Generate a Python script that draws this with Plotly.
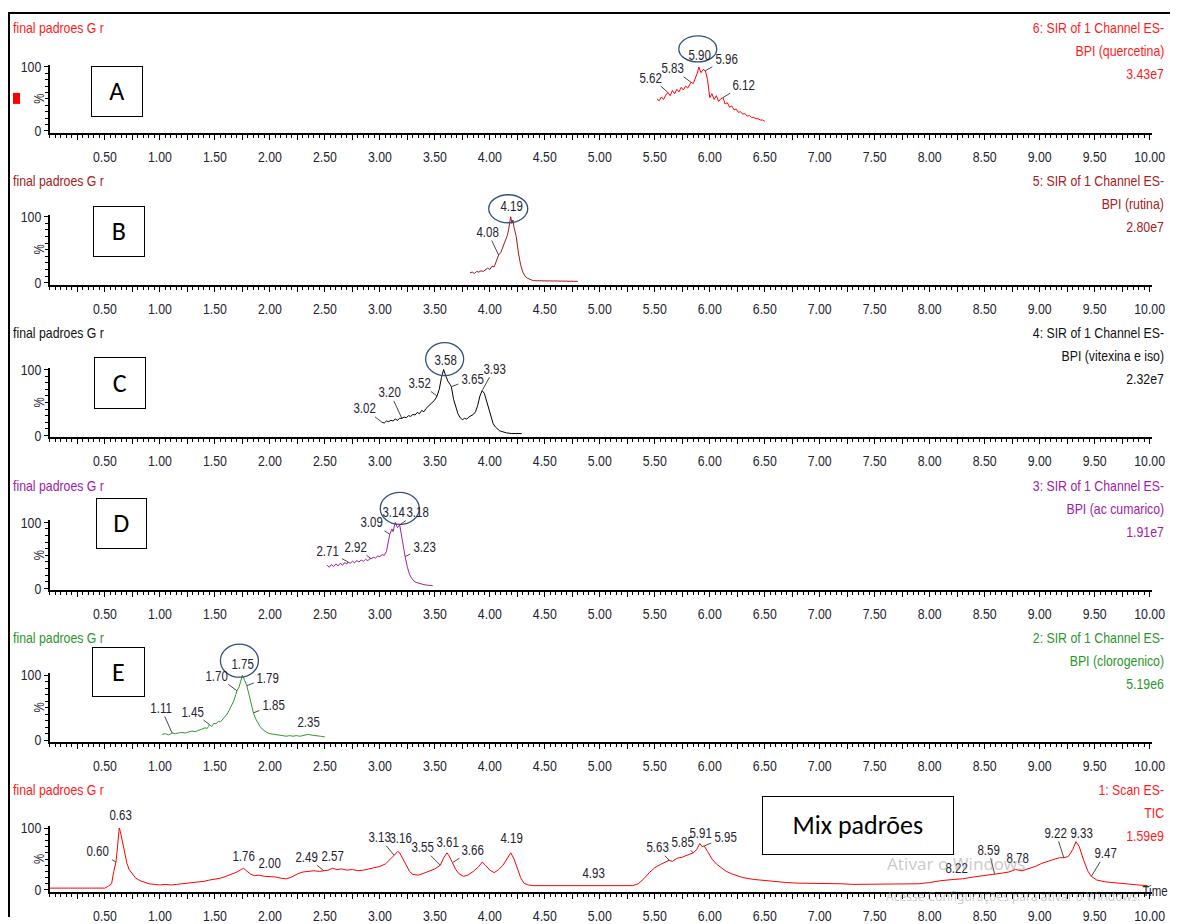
import numpy as np
import plotly.graph_objects as go

W, H = 1187, 924

# ---------------- chromatogram data: retention time (min) / relative intensity (%) ----------------
quercetina_t = [5.52, 5.54, 5.56, 5.58, 5.60, 5.62, 5.64, 5.66, 5.68, 5.70, 5.72, 5.74, 5.76, 5.78, 5.80, 5.82,
                5.83, 5.85, 5.87, 5.89, 5.90, 5.92, 5.94, 5.96, 5.98, 6.00,
                6.02, 6.04, 6.06, 6.08, 6.10, 6.12, 6.14, 6.16, 6.18, 6.20, 6.22, 6.24, 6.26, 6.28, 6.30, 6.32,
                6.34, 6.36, 6.38, 6.40, 6.42, 6.44, 6.46, 6.48, 6.50]
quercetina_i = [50, 47, 53, 49, 56, 60, 55, 63, 58, 65, 61, 68, 64, 70, 67, 73,
                76, 74, 82, 92, 100, 91, 96, 94, 80, 52,
                58, 49, 55, 46, 50, 52, 42, 44, 37, 39, 33, 34, 29, 30, 26, 27,
                23, 24, 21, 21, 19, 19, 17, 17, 15]

rutina_t = [3.82, 3.84, 3.86, 3.88, 3.90, 3.92, 3.94, 3.96, 3.98, 4.00, 4.02, 4.04, 4.06, 4.08, 4.10,
            4.12, 4.14, 4.16, 4.17, 4.18, 4.19, 4.20, 4.21, 4.22, 4.24, 4.26, 4.28, 4.30, 4.32, 4.34,
            4.36, 4.38, 4.40, 4.45, 4.50, 4.55, 4.60, 4.65, 4.70, 4.75, 4.80]
rutina_i = [15, 16, 14, 17, 16, 18, 17, 20, 22, 20, 25, 24, 33, 42, 46,
            55, 63, 72, 80, 88, 100, 90, 95, 84, 70, 45, 27, 16, 10, 7,
            5, 4, 3, 3, 2, 2, 2, 2, 2, 2, 2]

vitexina_t = [3.02, 3.04, 3.06, 3.08, 3.10, 3.12, 3.14, 3.16, 3.18, 3.20, 3.22, 3.24, 3.26, 3.28, 3.30, 3.32,
              3.34, 3.36, 3.38, 3.40, 3.42, 3.44, 3.46, 3.48, 3.50, 3.52, 3.54, 3.56, 3.58, 3.60, 3.62, 3.64,
              3.65, 3.67, 3.69, 3.71, 3.73, 3.75, 3.77, 3.79, 3.81, 3.83, 3.85, 3.87, 3.89, 3.91, 3.93,
              3.95, 3.97, 3.99, 4.01, 4.03, 4.05, 4.07, 4.09, 4.11, 4.13, 4.15, 4.20, 4.25, 4.29]
vitexina_i = [20, 19, 22, 21, 23, 22, 25, 23, 26, 26, 28, 27, 30, 29, 32, 31,
              35, 33, 38, 36, 41, 44, 47, 50, 54, 60, 70, 88, 100, 90, 82, 77,
              74, 55, 42, 33, 27, 24, 26, 25, 28, 30, 32, 36, 46, 60, 68,
              64, 52, 38, 26, 18, 13, 10, 7, 6, 5, 4, 3, 3, 3]

cumarico_t = [2.52, 2.54, 2.56, 2.58, 2.60, 2.62, 2.64, 2.66, 2.68, 2.70, 2.71, 2.73, 2.75, 2.77, 2.79,
              2.81, 2.83, 2.85, 2.87, 2.89, 2.91, 2.92, 2.94, 2.96, 2.98, 3.00, 3.02, 3.04, 3.06, 3.08,
              3.09, 3.11, 3.12, 3.14, 3.16, 3.18, 3.20, 3.22, 3.23, 3.25, 3.27, 3.29, 3.31, 3.33, 3.36,
              3.39, 3.42, 3.45, 3.48]
cumarico_i = [35, 32, 36, 33, 37, 34, 38, 35, 39, 37, 40, 38, 41, 39, 42,
              40, 43, 41, 44, 42, 45, 45, 47, 46, 49, 48, 51, 50, 56, 72,
              82, 90, 86, 100, 92, 96, 75, 55, 48, 32, 21, 15, 11, 9, 7,
              6, 5, 4, 4]

clorogenico_t = [1.02, 1.05, 1.08, 1.11, 1.14, 1.17, 1.20, 1.23, 1.26, 1.29, 1.32, 1.35, 1.38, 1.41, 1.43,
                 1.45, 1.47, 1.49, 1.51, 1.53, 1.55, 1.57, 1.59, 1.61, 1.63, 1.65, 1.67, 1.69, 1.70, 1.72,
                 1.73, 1.75, 1.77, 1.79, 1.81, 1.83, 1.85, 1.87, 1.89, 1.91, 1.93, 1.95, 1.97, 2.00, 2.03,
                 2.06, 2.09, 2.12, 2.15, 2.18, 2.21, 2.24, 2.27, 2.30, 2.33, 2.35, 2.37, 2.40, 2.43, 2.46,
                 2.50]
clorogenico_i = [9, 10, 8, 11, 10, 11, 12, 11, 13, 14, 13, 15, 17, 19, 18,
                 24, 21, 26, 25, 29, 28, 32, 36, 40, 46, 53, 60, 70, 76, 82,
                 88, 100, 92, 84, 70, 55, 42, 33, 26, 21, 17, 14, 12, 10, 9,
                 8, 7, 7, 6, 7, 6, 7, 6, 7, 8, 9, 8, 7, 6, 6,
                 5]

tic_t = [0.00, 0.10, 0.20, 0.30, 0.40, 0.50, 0.53, 0.56, 0.58, 0.60, 0.61, 0.62, 0.63, 0.64, 0.66,
         0.68, 0.70, 0.72, 0.75, 0.78, 0.82, 0.86, 0.90, 0.95, 1.00, 1.05, 1.10, 1.15, 1.20, 1.25,
         1.30, 1.35, 1.40, 1.45, 1.50, 1.55, 1.60, 1.65, 1.70, 1.74, 1.76, 1.78, 1.82, 1.86, 1.90,
         1.95, 2.00, 2.05, 2.10, 2.15, 2.20, 2.25, 2.30, 2.35, 2.40, 2.45, 2.49, 2.53, 2.57, 2.61,
         2.65, 2.70, 2.75, 2.80, 2.85, 2.90, 2.95, 3.00, 3.05, 3.10, 3.13, 3.16, 3.18, 3.21, 3.24,
         3.27, 3.30, 3.35, 3.40, 3.45, 3.50, 3.55, 3.58, 3.61, 3.63, 3.66, 3.69, 3.72, 3.76, 3.80,
         3.85, 3.90, 3.93, 3.96, 4.00, 4.04, 4.08, 4.12, 4.16, 4.19, 4.22, 4.25, 4.28, 4.31, 4.35,
         4.40, 4.50, 4.60, 4.70, 4.80, 4.93, 5.00, 5.10, 5.20, 5.30, 5.35, 5.40, 5.45, 5.50, 5.55,
         5.60, 5.63, 5.66, 5.70, 5.75, 5.80, 5.85, 5.88, 5.91, 5.93, 5.95, 5.98, 6.02, 6.06, 6.10,
         6.15, 6.20, 6.30, 6.40, 6.50, 6.60, 6.70, 6.80, 6.90, 7.00, 7.10, 7.20, 7.30, 7.40, 7.50,
         7.60, 7.70, 7.80, 7.90, 8.00, 8.10, 8.22, 8.30, 8.40, 8.50, 8.59, 8.65, 8.72, 8.78, 8.84,
         8.90, 8.96, 9.02, 9.08, 9.14, 9.18, 9.22, 9.26, 9.30, 9.33, 9.36, 9.40, 9.44, 9.47, 9.52,
         9.60, 9.70, 9.80, 9.90, 9.98]
tic_i = [3, 3, 3, 3, 3, 3, 6, 10, 30, 45, 62, 88, 100, 94, 78,
         58, 43, 33, 25, 19, 15, 12, 10, 9, 8, 9, 8, 9, 10, 10,
         11, 13, 14, 16, 17, 19, 22, 25, 29, 33, 35, 32, 26, 23, 24,
         22, 22, 21, 19, 18, 21, 26, 29, 30, 31, 30, 31, 32, 35, 33,
         34, 32, 33, 31, 32, 34, 36, 38, 42, 50, 56, 62, 60, 50, 40,
         30, 25, 24, 27, 30, 34, 40, 52, 60, 55, 44, 33, 26, 22, 24,
         30, 38, 45, 40, 32, 28, 33, 40, 52, 60, 50, 35, 20, 11, 8,
         7, 7, 6, 7, 6, 7, 6, 6, 7, 7, 10, 18, 28, 36, 41,
         45, 48, 46, 51, 53, 56, 60, 65, 75, 70, 71, 62, 50, 42, 36,
         30, 26, 20, 17, 15, 13, 12, 11, 11, 10, 10, 10, 9, 9, 9,
         9, 9, 10, 10, 12, 15, 17, 18, 21, 23, 26, 27, 29, 33, 31,
         34, 38, 43, 47, 50, 52, 52, 54, 65, 78, 70, 48, 30, 22, 16,
         13, 11, 9, 8, 7]

# ---------------- peak apex labels ----------------
quercetina_peaks = [5.62, 5.83, 5.90, 5.96, 6.12]
rutina_peaks = [4.08, 4.19]
vitexina_peaks = [3.02, 3.20, 3.52, 3.58, 3.65, 3.93]
cumarico_peaks = [2.71, 2.92, 3.09, 3.14, 3.18, 3.23]
clorogenico_peaks = [1.11, 1.45, 1.70, 1.75, 1.79, 1.85, 2.35]
tic_peaks = [0.60, 0.63, 1.76, 2.00, 2.49, 2.57, 3.13, 3.16, 3.55, 3.61, 3.66, 4.19, 4.93,
             5.63, 5.85, 5.91, 5.95, 8.22, 8.59, 8.78, 9.22, 9.33, 9.47]
# highlighted (circled) compound peak in each SIR channel
highlighted_peaks = [5.90, 4.19, 3.58, 3.14, 1.75, None]

# ---------------- header texts ----------------
sample_name = "final padroes G r"
channel_titles = ["6: SIR of 1 Channel ES-", "5: SIR of 1 Channel ES-", "4: SIR of 1 Channel ES-",
                  "3: SIR of 1 Channel ES-", "2: SIR of 1 Channel ES-", "1: Scan ES-"]
channel_functions = ["BPI (quercetina)", "BPI (rutina)", "BPI (vitexina e iso)",
                     "BPI (ac cumarico)", "BPI (clorogenico)", "TIC"]
full_scale = ["3.43e7", "2.80e7", "2.32e7", "1.91e7", "5.19e6", "1.59e9"]
panel_tags = ["A", "B", "C", "D", "E", "Mix padrões"]
x_tick_labels = ["0.50", "1.00", "1.50", "2.00", "2.50", "3.00", "3.50", "4.00", "4.50", "5.00",
                 "5.50", "6.00", "6.50", "7.00", "7.50", "8.00", "8.50", "9.00", "9.50", "10.00"]

traces = [(quercetina_t, quercetina_i), (rutina_t, rutina_i), (vitexina_t, vitexina_i),
          (cumarico_t, cumarico_i), (clorogenico_t, clorogenico_i), (tic_t, tic_i)]
peak_sets = [quercetina_peaks, rutina_peaks, vitexina_peaks, cumarico_peaks, clorogenico_peaks, tic_peaks]
for t, v in traces:
    assert len(t) == len(v)

# ---------------- styling ----------------
NARROW = "Liberation Sans, Arial, sans-serif"   # condensed in the page script below
TAGFONT = "Carlito, Lato, Open Sans, sans-serif"
LABEL_COLOR = "#23232f"
trace_colors = ["#ff0000", "#9e1b1b", "#000000", "#a01ea6", "#2f9a2f", "#ff0000"]
head_colors = ["#ff1a1a", "#a52020", "#111111", "#a020a6", "#2a962a", "#ff1a1a"]

# layout grid (px): 0 % line, 100 % line, header text line of each panel
rows = [(131, 67, 28), (283, 217, 181), (436, 370, 333), (589, 523, 486), (741, 676, 638), (891, 829, 790)]

# label text offsets (px from apex, y down) and whether a leader line is drawn
label_offsets = [
    [(-17, -15, 1), (-19, -14, 1), (1, -12, 0), (21, -12, 1), (21, -13, 1)],
    [(-11, -23, 1), (1, -11, 0)],
    [(-18, -14, 1), (-12, -26, 1), (-18, -13, 1), (2, -10, 0), (21, -8, 1), (12, -22, 1)],
    [(-20, -11, 1), (-16, -12, 1), (-18, -12, 1), (-2, -10, 0), (18, -13, 1), (19, -10, 1)],
    [(-11, -25, 1), (-17, -13, 1), (-20, -15, 1), (0, -11, 0), (21, -8, 1), (20, -8, 1), (0, -12, 0)],
    [(-18, -11, 1), (1, -13, 0), (0, -12, 0), (0, -13, 0), (-17, -14, 1), (0, -12, 0), (-15, -18, 1),
     (3, -14, 0), (-18, -18, 1), (1, -11, 0), (20, -13, 1), (1, -15, 0), (1, -13, 0),
     (-12, -13, 1), (-11, -11, 1), (1, -11, 0), (21, -9, 1), (3, -11, 0), (-6, -24, 1), (2, -12, 0),
     (-8, -25, 1), (6, -9, 0), (14, -23, 1)],
]
# circle around the highlighted label, px relative to apex (x right, y up)
circle_px = [(-20, 18, 5, 31), (-22, 17, -6, 22), (-18, 20, -6, 27), (-15, 24, -2, 30), (-22, 16, -2, 31)]
# boxed panel tags: left, right, top, bottom (px)
tag_boxes = [(92, 143, 67, 117), (94, 145, 207, 257), (95, 146, 358, 409), (97, 147, 499, 549),
             (93, 145, 648, 697), (764, 953, 797, 855)]

PX_PER_MIN = 110.0
X0_PX = 50.0
X_MAX = 10.02
SQUEEZE = 0.82
# grid-to-page mapping of the layout grid above
GRID_SCALE = 0.986
GRID_YOFF = 7.0


def px_x(x):
    return (x / GRID_SCALE) / W


def px_y(y):
    return 1 - ((y - GRID_YOFF) / GRID_SCALE) / H


fig = go.Figure()
annotations = []
shapes = []
tick_vals = [float(s) for s in x_tick_labels]
major_vals = [round(0.25 * k, 2) for k in range(1, 41)]
major_text = [s if float(s) in tick_vals else "" for s in [f"{v:.2f}" for v in major_vals]]
x_domain = [px_x(X0_PX), px_x(X0_PX + X_MAX * PX_PER_MIN)]

for k in range(6):
    n = "" if k == 0 else str(k + 1)
    t, v = traces[k]
    zero, full, head = rows[k]
    ppu = (zero - full) / 100.0
    fig.add_trace(go.Scatter(x=t, y=v, mode="lines", xaxis="x" + n, yaxis="y" + n,
                             line=dict(color=trace_colors[k], width=1), hoverinfo="skip",
                             showlegend=False))

    fig.layout["xaxis" + n] = dict(
        domain=x_domain, range=[0, X_MAX], anchor="y" + n,
        showline=True, linecolor="black", linewidth=2, showgrid=False, zeroline=False,
        ticks="outside", ticklen=5, tickwidth=1, tickcolor="black",
        tickvals=major_vals, ticktext=major_text, ticklabelstandoff=4,
        tickfont=dict(family=NARROW, size=15, color=LABEL_COLOR),
        minor=dict(dtick=0.05, tick0=0, ticks="outside", ticklen=3, tickwidth=1, tickcolor="black"),
        fixedrange=True)
    lo = -2.0 / ppu
    hi = 100 + 2.0 / ppu
    y_domain = [px_y(zero + 2), px_y(full - 2)]
    fig.layout["yaxis" + n] = dict(
        domain=y_domain, range=[lo, hi], anchor="x" + n,
        showline=True, linecolor="black", linewidth=1.5, showgrid=False, zeroline=False,
        ticks="outside", ticklen=4, tickwidth=1, tickcolor="black",
        tickvals=[0, 100], ticktext=["0", "100"],
        tickfont=dict(family=NARROW, size=15, color=LABEL_COLOR),
        minor=dict(dtick=10, tick0=0, ticks="outside", ticklen=3, tickwidth=1, tickcolor="black"),
        fixedrange=True)

    def to_paper(tx, vy):
        px = x_domain[0] + (tx / X_MAX) * (x_domain[1] - x_domain[0])
        py = y_domain[0] + (vy - lo) / (hi - lo) * (y_domain[1] - y_domain[0])
        return px, py

    # "%" axis caption
    annotations.append(dict(xref="paper", yref="paper", x=px_x(39), y=px_y((zero + full) / 2),
                            xanchor="center", yanchor="middle",
                            text="%", textangle=-90, showarrow=False,
                            font=dict(family=NARROW, size=14, color=LABEL_COLOR)))
    # header, left and right
    annotations.append(dict(xref="paper", yref="paper", x=px_x(11), y=px_y(head), xanchor="left",
                            yanchor="middle", align="left", text=sample_name, showarrow=False,
                            font=dict(family=NARROW, size=15, color=head_colors[k])))
    for j, txt in enumerate([channel_titles[k], channel_functions[k], full_scale[k]]):
        annotations.append(dict(xref="paper", yref="paper", x=0.997, y=px_y(head + 23 * j),
                                xanchor="right", yanchor="middle", align="right", text=txt,
                                showarrow=False,
                                font=dict(family=NARROW, size=15, color=head_colors[k])))

    # peak labels
    for p, (dx, dy, lead) in zip(peak_sets[k], label_offsets[k]):
        yv = float(np.interp(p, t, v))
        annotations.append(dict(xref="x" + n, yref="y" + n, x=p, y=yv, text=f"{p:.2f}",
                                showarrow=True, arrowhead=0, arrowwidth=0.9,
                                arrowcolor="#333333" if lead else "rgba(0,0,0,0)",
                                ax=dx, ay=dy, standoff=0, borderpad=0,
                                font=dict(family=NARROW, size=14, color=LABEL_COLOR)))
    hp = highlighted_peaks[k]
    if hp is not None:
        c = circle_px[k]
        cx, cy = to_paper(hp, float(np.interp(hp, t, v)))
        shapes.append(dict(type="circle", xref="paper", yref="paper", xsizemode="pixel",
                           ysizemode="pixel", xanchor=cx, yanchor=cy,
                           x0=c[0], x1=c[1], y0=c[2], y1=c[3],
                           line=dict(color="#34507e", width=1.3)))

    # boxed tag
    l, r, tp, b = tag_boxes[k]
    annotations.append(dict(xref="paper", yref="paper", x=px_x((l + r) / 2), y=px_y((tp + b) / 2),
                            xanchor="center", yanchor="middle",
                            text=panel_tags[k], showarrow=False,
                            width=(r - l) / GRID_SCALE - 2, height=(b - tp) / GRID_SCALE - 2,
                            bordercolor="black", borderwidth=1, borderpad=0, bgcolor="white",
                            font=dict(family=TAGFONT, size=26, color="black")))

# axis caption for the time axis
annotations.append(dict(xref="paper", yref="paper", x=1.0, y=px_y(892), xanchor="right",
                        yanchor="middle", align="right", text="Time", showarrow=False,
                        font=dict(family=NARROW, size=14, color=LABEL_COLOR)))
# system overlay text
annotations.append(dict(xref="paper", yref="paper", x=px_x(885), y=px_y(865), xanchor="left",
                        yanchor="middle", text="Ativar o Windows", showarrow=False,
                        font=dict(family="Noto Sans, sans-serif", size=17, color="rgba(150,150,150,0.5)")))
annotations.append(dict(xref="paper", yref="paper", x=px_x(884), y=px_y(898), xanchor="left",
                        yanchor="middle", text="Acesse Configurações para ativar o Windows.",
                        showarrow=False,
                        font=dict(family="Noto Sans, sans-serif", size=12, color="rgba(150,150,150,0.5)")))

# outer frame (kept inside the page) and channel marker
shapes.append(dict(type="line", xref="paper", yref="paper", x0=px_x(9), x1=px_x(9), y0=px_y(12),
                   y1=0, line=dict(color="black", width=2)))
shapes.append(dict(type="line", xref="paper", yref="paper", x0=px_x(8), x1=1, y0=px_y(13),
                   y1=px_y(13), line=dict(color="black", width=2)))
shapes.append(dict(type="rect", xref="paper", yref="paper", x0=px_x(13), x1=px_x(20), y0=px_y(93),
                   y1=px_y(104), fillcolor="#ff0000", line=dict(width=0)))

fig.update_layout(width=W, height=H, autosize=False, margin=dict(l=0, r=0, t=0, b=0),
                  paper_bgcolor="white", plot_bgcolor="white", annotations=annotations, shapes=shapes,
                  showlegend=False)

# page script: no page margin, and narrow (Arial-Narrow-like) glyphs for the instrument texts
page_js = """
var gd = document.getElementById('{plot_id}');
document.documentElement.style.margin = '0';
document.documentElement.style.overflow = 'hidden';
document.body.style.margin = '0';
document.body.style.overflow = 'hidden';
var nodes = gd.querySelectorAll('text');
for (var i = 0; i < nodes.length; i++) {
  var el = nodes[i];
  var ff = el.style.fontFamily || '';
  if (ff.indexOf('Liberation Sans') < 0 || el.getAttribute('lengthAdjust')) continue;
  var w = el.getComputedTextLength();
  if (!w) continue;
  el.setAttribute('textLength', (w * %s).toFixed(2));
  el.setAttribute('lengthAdjust', 'spacingAndGlyphs');
}
""" % SQUEEZE

fig.write_html("out.html", config={"displayModeBar": False}, post_script=page_js)
